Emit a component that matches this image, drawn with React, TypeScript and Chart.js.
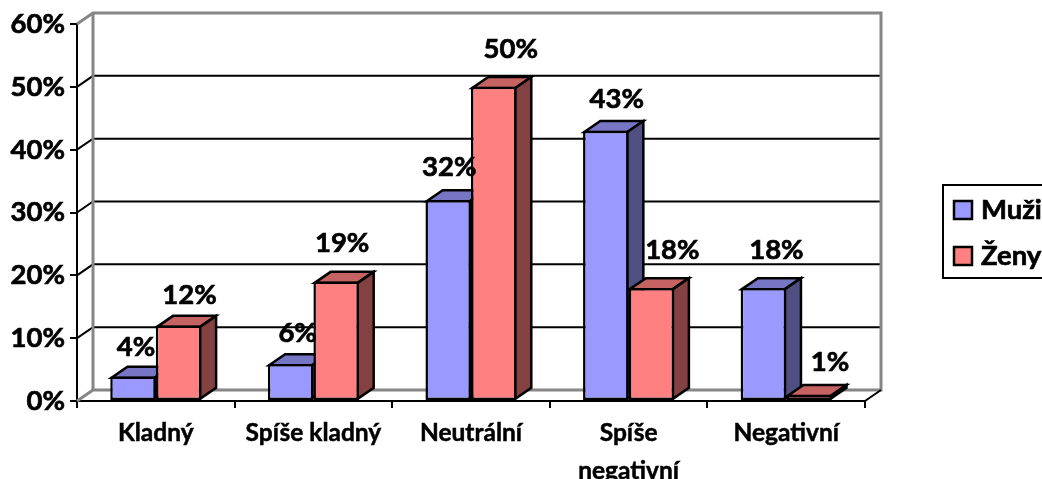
import React, { useEffect, useRef } from "react";
import { Chart, registerables } from "chart.js";

Chart.register(...registerables);

const categories: (string | string[])[] = ["Kladný", "Spíše kladný", "Neutrální", ["Spíše", "negativní"], "Negativní"];
const muzi = [3.9, 5.9, 32, 43, 18];
const zeny = [12, 19, 50, 18, 1];
const seriesNames = ["Muži", "Ženy"];
const labelNudgeY = [[-29, -31, -33, -32, -38], [-30, -38, -38, -38, -33]];
const labelNudgeX = [[3, 7, 1, 11, 13], [11, 6, 17, 21, 21]];

const FONT = "Lato, Carlito, sans-serif";
const DX = 16;
const DY = -11;
const BORDER = 2.5;
const TEXT_STROKE = 0.7;
const fills = ["#9999FF", "#FF8080"];
const tops = ["#7676C5", "#C56363"];
const sides = ["#4F4F82", "#834141"];
const WALL = "#868686";

const line = (ctx: CanvasRenderingContext2D, pts: number[][], color: string, w: number) => {
  ctx.beginPath();
  pts.forEach((p, i) => (i ? ctx.lineTo(p[0], p[1]) : ctx.moveTo(p[0], p[1])));
  ctx.strokeStyle = color;
  ctx.lineWidth = w;
  ctx.stroke();
};
const face = (ctx: CanvasRenderingContext2D, pts: number[][], fill: string) => {
  ctx.beginPath();
  pts.forEach((p, i) => (i ? ctx.lineTo(p[0], p[1]) : ctx.moveTo(p[0], p[1])));
  ctx.closePath();
  ctx.fillStyle = fill;
  ctx.fill();
  ctx.strokeStyle = "#000";
  ctx.lineWidth = BORDER;
  ctx.lineJoin = "miter";
  ctx.stroke();
};
const boldText = (ctx: CanvasRenderingContext2D, s: string, x: number, y: number) => {
  ctx.fillStyle = "#000";
  ctx.strokeStyle = "#000";
  ctx.lineWidth = TEXT_STROKE;
  ctx.fillText(s, x, y);
  ctx.strokeText(s, x, y);
};

const depthPlugin = {
  id: "depth",
  beforeDatasetsDraw(chart: any) {
    const { ctx, chartArea: a, scales } = chart;
    const y = scales.y;
    ctx.save();
    y.ticks.forEach((t: any) => {
      const py = y.getPixelForValue(t.value);
      if (t.value > 0 && t.value < 60) {
        line(ctx, [[a.left, py], [a.left + DX, py + DY], [a.right + DX, py + DY]], "#000", 2);
      }
    });
    const yTop = y.getPixelForValue(60);
    const yBot = y.getPixelForValue(0);
    line(ctx, [[a.left, yTop], [a.left + DX, yTop + DY], [a.right + DX, yTop + DY], [a.right + DX, yBot + DY], [a.left + DX, yBot + DY], [a.left, yBot]], WALL, 3);
    line(ctx, [[a.left + DX, yTop + DY], [a.left + DX, yBot + DY]], WALL, 3);
    line(ctx, [[a.right, yBot], [a.right + DX, yBot + DY]], "#000", 2);
    [0, 1].forEach((d) => {
      chart.getDatasetMeta(d).data.forEach((el: any) => {
        const p = el.getProps(["x", "y", "base", "width"], true);
        const inset = BORDER / 2;
        const l = p.x - p.width / 2 + inset;
        const r = p.x + p.width / 2 - inset;
        const t = p.y + inset;
        const b = p.base - inset;
        face(ctx, [[l, t], [l + DX, t + DY], [r + DX, t + DY], [r, t]], tops[d]);
        face(ctx, [[r, t], [r + DX, t + DY], [r + DX, b + DY], [r, b]], sides[d]);
      });
    });
    ctx.restore();
  },
  afterDatasetsDraw(chart: any) {
    const { ctx } = chart;
    ctx.save();
    ctx.font = `bold 27.5px ${FONT}`;
    ctx.textAlign = "center";
    ctx.textBaseline = "middle";
    [0, 1].forEach((d) => {
      chart.getDatasetMeta(d).data.forEach((el: any, i: number) => {
        const p = el.getProps(["x", "y"], true);
        const v = chart.data.datasets[d].data[i];
        boldText(ctx, `${Math.round(v)}%`, p.x + labelNudgeX[d][i], p.y + labelNudgeY[d][i]);
      });
    });
    ctx.strokeStyle = "#000";
    ctx.lineWidth = 2;
    ctx.strokeRect(943, 185, 130, 93);
    ctx.textAlign = "left";
    [0, 1].forEach((d) => {
      const top = d === 0 ? 201 : 247;
      ctx.fillStyle = fills[d];
      ctx.fillRect(954, top, 18, 18);
      ctx.strokeStyle = "#000";
      ctx.lineWidth = 2.5;
      ctx.strokeRect(954, top, 18, 18);
      boldText(ctx, chart.data.datasets[d].label, 981, top + 9);
    });
    ctx.restore();
  },
};

export default function App() {
  const ref = useRef<HTMLCanvasElement>(null);
  useEffect(() => {
    document.body.style.margin = "0";
    const chart = new Chart(ref.current!, {
      type: "bar",
      data: {
        labels: categories as any,
        datasets: [muzi, zeny].map((data, d) => ({
          label: seriesNames[d],
          data,
          backgroundColor: fills[d],
          borderColor: "#000",
          borderWidth: BORDER,
          borderSkipped: false,
          barPercentage: 1,
          categoryPercentage: 0.578,
        })),
      },
      options: {
        animation: false,
        responsive: false,
        layout: { padding: { top: 24, right: 177, left: 0, bottom: 0 } },
        plugins: { legend: { display: false }, tooltip: { enabled: false } },
        scales: {
          x: {
            afterFit: (s: any) => { s.height = 78; },
            grid: { drawOnChartArea: false, drawTicks: true, tickLength: 7, color: "#000", lineWidth: 2, offset: true },
            border: { color: "#000", width: 2 },
            ticks: { color: "#000", textStrokeColor: "#000", textStrokeWidth: 0.5, padding: 6, maxRotation: 0, autoSkip: false, font: { family: FONT, weight: "bold", size: 24.5, lineHeight: "38px" } },
          },
          y: {
            min: 0,
            max: 60,
            afterFit: (s: any) => { s.width = 77; },
            grid: { drawOnChartArea: false, drawTicks: true, tickLength: 7, color: "#000", lineWidth: 2 },
            border: { color: "#000", width: 2 },
            ticks: { stepSize: 10, color: "#000", textStrokeColor: "#000", textStrokeWidth: TEXT_STROKE, padding: 5, font: { family: FONT, weight: "bold", size: 27.5 }, callback: (v: any) => `${v}%` },
          },
        },
      } as any,
      plugins: [depthPlugin],
    });
    return () => chart.destroy();
  }, []);
  return <canvas ref={ref} width={1042} height={479} style={{ display: "block" }} />;
}
